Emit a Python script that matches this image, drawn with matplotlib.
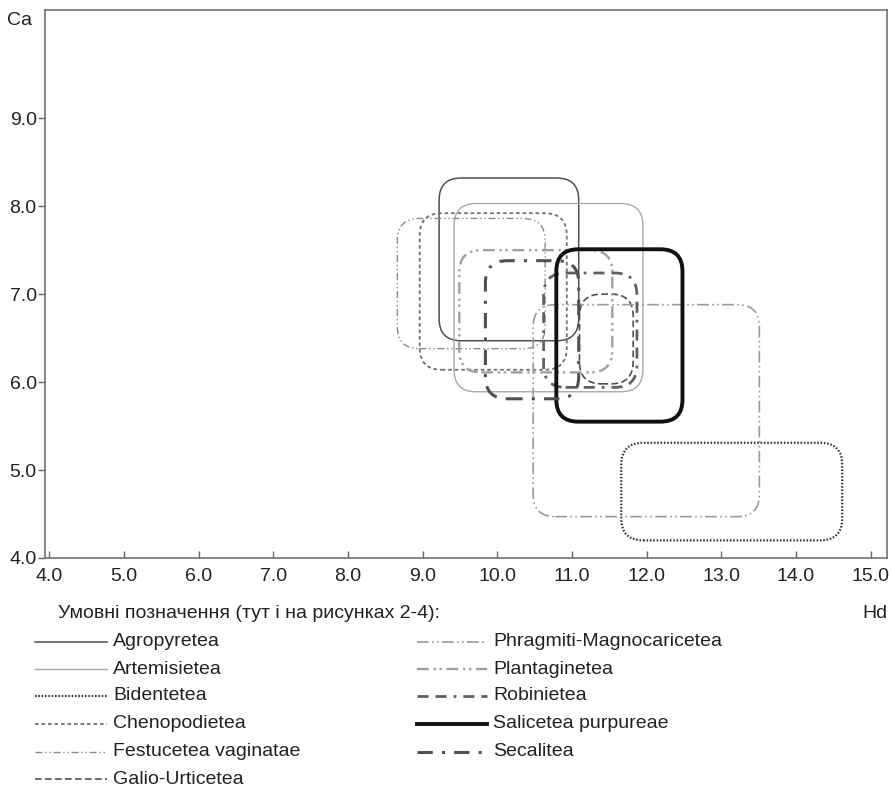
import matplotlib
matplotlib.use('Agg')
import matplotlib.pyplot as plt
from matplotlib.patches import FancyBboxPatch
from matplotlib.lines import Line2D

plt.rcParams['font.family'] = ['Liberation Sans', 'DejaVu Sans']

# syntaxa: name, Hd range, Ca range
names = ['Agropyretea', 'Artemisietea', 'Bidentetea', 'Chenopodietea',
         'Festucetea vaginatae', 'Galio-Urticetea', 'Phragmiti-Magnocaricetea',
         'Plantaginetea', 'Robinietea', 'Salicetea purpureae', 'Secalitea']
hd_min = [9.22, 9.42, 11.66, 8.96, 8.66, 11.10, 10.48, 9.49, 10.62, 10.79, 9.84]
hd_max = [11.09, 11.95, 14.62, 10.93, 10.64, 11.82, 13.51, 11.54, 11.87, 12.48, 11.09]
ca_min = [6.47, 5.89, 4.20, 6.14, 6.38, 5.98, 4.47, 6.11, 5.94, 5.55, 5.81]
ca_max = [8.32, 8.03, 5.31, 7.92, 7.86, 7.00, 6.88, 7.50, 7.24, 7.51, 7.38]

xticks = [4, 5, 6, 7, 8, 9, 10, 11, 12, 13, 14, 15]
yticks = [4, 5, 6, 7, 8, 9]

# line styles for each syntaxon
styles = [
    dict(color='#505050', lw=1.1, ls='-'),
    dict(color='#a8a8a8', lw=1.0, ls='-'),
    dict(color='#303030', lw=1.6, ls=(0, (0.7, 0.8))),
    dict(color='#707070', lw=1.3, ls=(0, (2, 1.6))),
    dict(color='#8a8a8a', lw=1.0, ls=(0, (5, 2, 1, 2, 1, 2))),
    dict(color='#505050', lw=1.2, ls=(0, (4, 2))),
    dict(color='#9a9a9a', lw=1.2, ls=(0, (7, 2, 1, 2, 1, 2))),
    dict(color='#a0a0a0', lw=1.7, ls=(0, (5, 2, 1, 1.5, 1, 2))),
    dict(color='#606060', lw=2.0, ls=(0, (4, 2.5, 4, 2.5, 1, 2.5))),
    dict(color='#111111', lw=2.8, ls='-'),
    dict(color='#505050', lw=2.2, ls=(0, (5, 3, 1, 3))),
]

fs = 14

fig = plt.figure(figsize=(8.91, 7.89), dpi=100)
W, H = 891, 789
x0, x1 = 45, 887
y_top, y_bot = 10, 558
ax = fig.add_axes([x0 / W, 1 - y_bot / H, (x1 - x0) / W, (y_bot - y_top) / H])
ax.set_xlim(3.94, 15.22)
ax.set_ylim(4.0, 10.23)

px_x = (x1 - x0) / (15.22 - 3.94)
px_y = (y_bot - y_top) / (10.23 - 4.0)
aspect = px_x / px_y
rad = 22 / px_x

for i in range(len(names)):
    st = styles[i]
    box = FancyBboxPatch((hd_min[i], ca_min[i]), hd_max[i] - hd_min[i], ca_max[i] - ca_min[i],
                         boxstyle='round,pad=0,rounding_size=%f' % rad,
                         mutation_aspect=aspect, fill=False,
                         edgecolor=st['color'], linewidth=st['lw'], linestyle=st['ls'])
    ax.add_patch(box)

ax.set_xticks(xticks)
ax.set_xticklabels(['%.1f' % v for v in xticks])
ax.set_yticks(yticks)
ax.set_yticklabels(['%.1f' % v for v in yticks])
ax.tick_params(axis='x', direction='in', length=5, width=1, color='#666666',
               labelsize=fs, pad=7, labelcolor='#222222')
ax.tick_params(axis='y', direction='out', length=5, width=1, color='#666666',
               labelsize=fs, pad=1, labelcolor='#222222')
for sp in ax.spines.values():
    sp.set_color('#707070')
    sp.set_linewidth(1.2)

# overlay in pixel coordinates for labels and legend
ov = fig.add_axes([0, 0, 1, 1])
ov.set_xlim(0, W)
ov.set_ylim(H, 0)
ov.axis('off')

ov.text(7, 20, 'Ca', fontsize=fs, va='center', ha='left', color='#222222')
ov.text(887, 613, 'Hd', fontsize=fs, va='center', ha='right', color='#222222')
ov.text(58, 614, 'Умовні позначення (тут і на рисунках 2-4):', fontsize=fs,
        va='center', ha='left', color='#222222')

rows = [642, 669, 696, 724, 752, 779]
for i in range(len(names)):
    st = styles[i]
    if i < 6:
        lx0, lx1, tx, y = 35, 107, 113, rows[i]
    else:
        lx0, lx1, tx, y = 417, 487, 493, rows[i - 6]
    ov.add_line(Line2D([lx0, lx1], [y, y], color=st['color'], linewidth=st['lw'],
                       linestyle=st['ls']))
    ov.text(tx, y, names[i], fontsize=fs, va='center', ha='left', color='#222222')

fig.savefig('out.png', dpi=100)
